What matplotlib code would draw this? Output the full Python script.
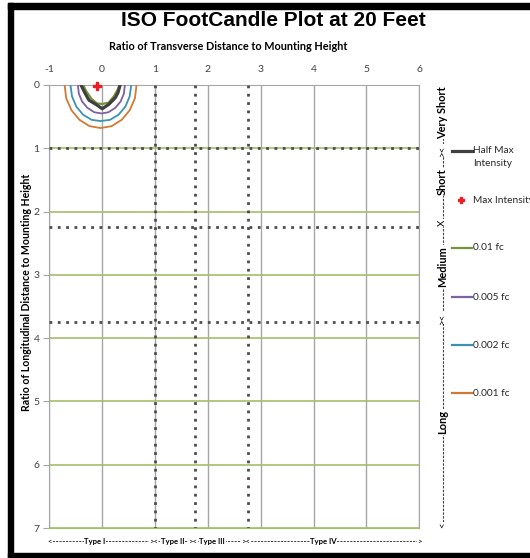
import matplotlib
matplotlib.use("Agg")
import matplotlib.pyplot as plt
from matplotlib.patches import Rectangle

plt.rcParams["axes.unicode_minus"] = False

# ---------------- data ----------------
x_ticks = [-1, 0, 1, 2, 3, 4, 5, 6]
y_ticks = [0, 1, 2, 3, 4, 5, 6, 7]

half_max_x = [-0.40, -0.33, -0.25, -0.11, 0.00, 0.12, 0.25, 0.30, 0.34]
half_max_y = [0.00, 0.12, 0.24, 0.31, 0.375, 0.31, 0.20, 0.12, 0.00]

fc001_x = [-0.36, -0.30, -0.20, -0.10, 0.00, 0.12, 0.22, 0.29, 0.33]
fc001_y = [0.00, 0.10, 0.22, 0.29, 0.30, 0.28, 0.18, 0.08, 0.00]

fc0005_x = [-0.46, -0.44, -0.38, -0.28, -0.15, -0.01, 0.12, 0.25, 0.35, 0.41, 0.43]
fc0005_y = [0.00, 0.14, 0.26, 0.36, 0.43, 0.45, 0.43, 0.36, 0.26, 0.14, 0.00]

fc0002_x = [-0.60, -0.57, -0.49, -0.36, -0.20, -0.03, 0.15, 0.31, 0.44, 0.52, 0.55]
fc0002_y = [0.00, 0.18, 0.34, 0.47, 0.55, 0.57, 0.55, 0.47, 0.34, 0.18, 0.00]

fc00001_x = [-0.71, -0.68, -0.58, -0.43, -0.24, -0.03, 0.18, 0.37, 0.52, 0.62, 0.65]
fc00001_y = [0.00, 0.21, 0.40, 0.55, 0.65, 0.68, 0.65, 0.55, 0.40, 0.21, 0.00]

max_x = [-0.10]
max_y = [0.02]

type_bounds = [1, 1.75, 2.75]
dist_bounds = [1, 2.25, 3.75]

type_labels = ["Type I", "Type II", "Type III", "Type IV"]
type_label_x = [-0.14, 1.33, 2.08, 4.19]
dist_labels = ["Very Short", "Short", "Medium", "Long"]
dist_label_y = [0.43, 1.53, 2.87, 5.33]

legend_names = ["Half Max\nIntensity", "Max Intensity", "0.01 fc", "0.005 fc", "0.002 fc", "0.001 fc"]

# ---------------- figure ----------------
W, H = 530, 558
fig = plt.figure(figsize=(W / 100, H / 100), dpi=100)
fig.patch.set_facecolor("white")

def px(x0, y0, w, h):
    return (x0 / W, 1 - (y0 + h) / H, w / W, h / H)

# black frame (left, top, bottom)
for r in [(8, 3, 5, 555), (8, 3, 530, 6), (8, 553, 530, 5)]:
    b = px(*r)
    fig.patches.append(Rectangle(b[:2], b[2], b[3], transform=fig.transFigure,
                                 color="black", zorder=10))

ax = fig.add_axes(px(49.3, 85, 370, 443))
ax.set_xlim(-1, 6)
ax.set_ylim(7, 0)

grid_gray = "#a6a6a6"
grid_green = "#a4bf6a"
dot_col = "#4d4d4d"

for x in x_ticks:
    ax.axvline(x, color=grid_gray, lw=1.0, zorder=1)
for y in y_ticks[1:]:
    ax.axhline(y, color=grid_green, lw=1.2, zorder=1)

for x in type_bounds:
    ax.plot([x, x], [0, 7], color=dot_col, lw=2.0, ls=(0, (1, 2)), zorder=3)
for y in dist_bounds:
    ax.plot([-1, 6], [y, y], color=dot_col, lw=2.0, ls=(0, (1, 2)), zorder=3)

c_half = "#404040"
c_001 = "#77933c"
c_0005 = "#7b62a0"
c_0002 = "#3a93b2"
c_0001 = "#d07a34"

ax.plot(fc00001_x, fc00001_y, color=c_0001, lw=1.3, zorder=4)
ax.plot(fc0002_x, fc0002_y, color=c_0002, lw=1.3, zorder=4)
ax.plot(fc0005_x, fc0005_y, color=c_0005, lw=1.3, zorder=4)
ax.plot(fc001_x, fc001_y, color=c_001, lw=1.6, zorder=5)
ax.plot(half_max_x, half_max_y, color=c_half, lw=2.3, zorder=6)
ax.plot(max_x, max_y, marker="P", color="#ee1c24", ms=5.5, ls="none", zorder=7, clip_on=False)

for s in ["left", "top", "right"]:
    ax.spines[s].set_color(grid_gray)
ax.spines["bottom"].set_color(grid_green)

lato = ["Lato", "DejaVu Sans"]
ax.xaxis.tick_top()
ax.set_xticks(x_ticks)
ax.set_yticks(y_ticks)
ax.tick_params(axis="x", length=0, pad=8, labelsize=7.5, labelcolor="#404040")
ax.tick_params(axis="y", length=4, width=0.8, color=grid_gray, pad=3, labelsize=7.5, labelcolor="#404040")
for lab in ax.get_xticklabels() + ax.get_yticklabels():
    lab.set_family(lato)

# titles
fig.text(273 / W, 1 - 21 / H, "ISO FootCandle Plot at 20 Feet", ha="center", va="center",
         fontsize=15, fontweight="bold", family=["Liberation Sans", "DejaVu Sans"])
fig.text(228 / W, 1 - 47 / H, "Ratio of Transverse Distance to Mounting Height", ha="center",
         va="center", fontsize=7.8, fontweight="bold", family=lato)
fig.text(27 / W, 1 - 292 / H, "Ratio of Longitudinal Distance to Mounting Height", ha="center",
         va="center", rotation=90, fontsize=7.6, fontweight="bold", family=lato)

# bottom type annotation
yb = 7.21
fs_b = 5.6
ax.plot([-1, 6], [yb, yb], color="#404040", lw=0.7, ls=(0, (2.2, 1.2)), clip_on=False, zorder=2)
for lab, xx in zip(type_labels, type_label_x):
    ax.text(xx, yb, lab, ha="center", va="center", fontsize=fs_b, fontweight="bold", family=lato,
            clip_on=False, bbox=dict(fc="white", ec="none", pad=0.4), zorder=3)
ax.text(-1.0, yb, "<", ha="center", va="center", fontsize=fs_b, family=lato, clip_on=False,
        bbox=dict(fc="white", ec="none", pad=0.3), zorder=3)
ax.text(6.0, yb, ">", ha="center", va="center", fontsize=fs_b, family=lato, clip_on=False,
        bbox=dict(fc="white", ec="none", pad=0.3), zorder=3)
for xx in type_bounds:
    ax.text(xx - 0.03, yb, "><", ha="center", va="center", fontsize=fs_b, family=lato, clip_on=False,
            bbox=dict(fc="white", ec="none", pad=0.3), zorder=3)

# right distance annotation
xr = 6.44
ax.plot([xr, xr], [0, 6.95], color="#404040", lw=0.8, ls=(0, (2.2, 1.2)), clip_on=False, zorder=2)
for lab, yy in zip(dist_labels, dist_label_y):
    ax.text(xr, yy, lab, ha="center", va="center", rotation=90, fontsize=7.9, fontweight="bold",
            family=lato, clip_on=False, bbox=dict(fc="white", ec="none", pad=0.6), zorder=3)
for yy, s in zip([1.03, 2.18, 3.68], ["><", "X", "><"]):
    ax.text(xr, yy, s, ha="center", va="center", rotation=90, fontsize=7.0, family=lato,
            clip_on=False, bbox=dict(fc="white", ec="none", pad=0.3), zorder=3)
ax.text(xr, 6.95, "<", ha="center", va="center", rotation=90, fontsize=7.0, family=lato,
        clip_on=False, bbox=dict(fc="white", ec="none", pad=0.3), zorder=3)

# legend (manual, figure pixels)
leg_y = [151, 200, 248, 297, 345, 393]
leg_cols = [c_half, None, c_001, c_0005, c_0002, c_0001]
leg_lw = [2.3, 0, 1.6, 1.6, 1.6, 1.6]
for name, yy, col, lw in zip(legend_names, leg_y, leg_cols, leg_lw):
    if col is None:
        fig.lines.append(plt.Line2D([461 / W], [1 - yy / H], marker="P", color="#ee1c24", ms=5,
                                    ls="none", transform=fig.transFigure))
    else:
        fig.lines.append(plt.Line2D([452 / W, 472 / W], [1 - yy / H, 1 - yy / H], color=col, lw=lw,
                                    transform=fig.transFigure))
    if "\n" in name:
        fig.text(473 / W, 1 - (yy - 5) / H, name, ha="left", va="top", fontsize=7.3, family=lato,
                 color="#262626", linespacing=1.55)
    else:
        fig.text(473 / W, 1 - yy / H, name, ha="left", va="center", fontsize=7.3, family=lato,
                 color="#262626")

fig.savefig("out.png", dpi=100)
